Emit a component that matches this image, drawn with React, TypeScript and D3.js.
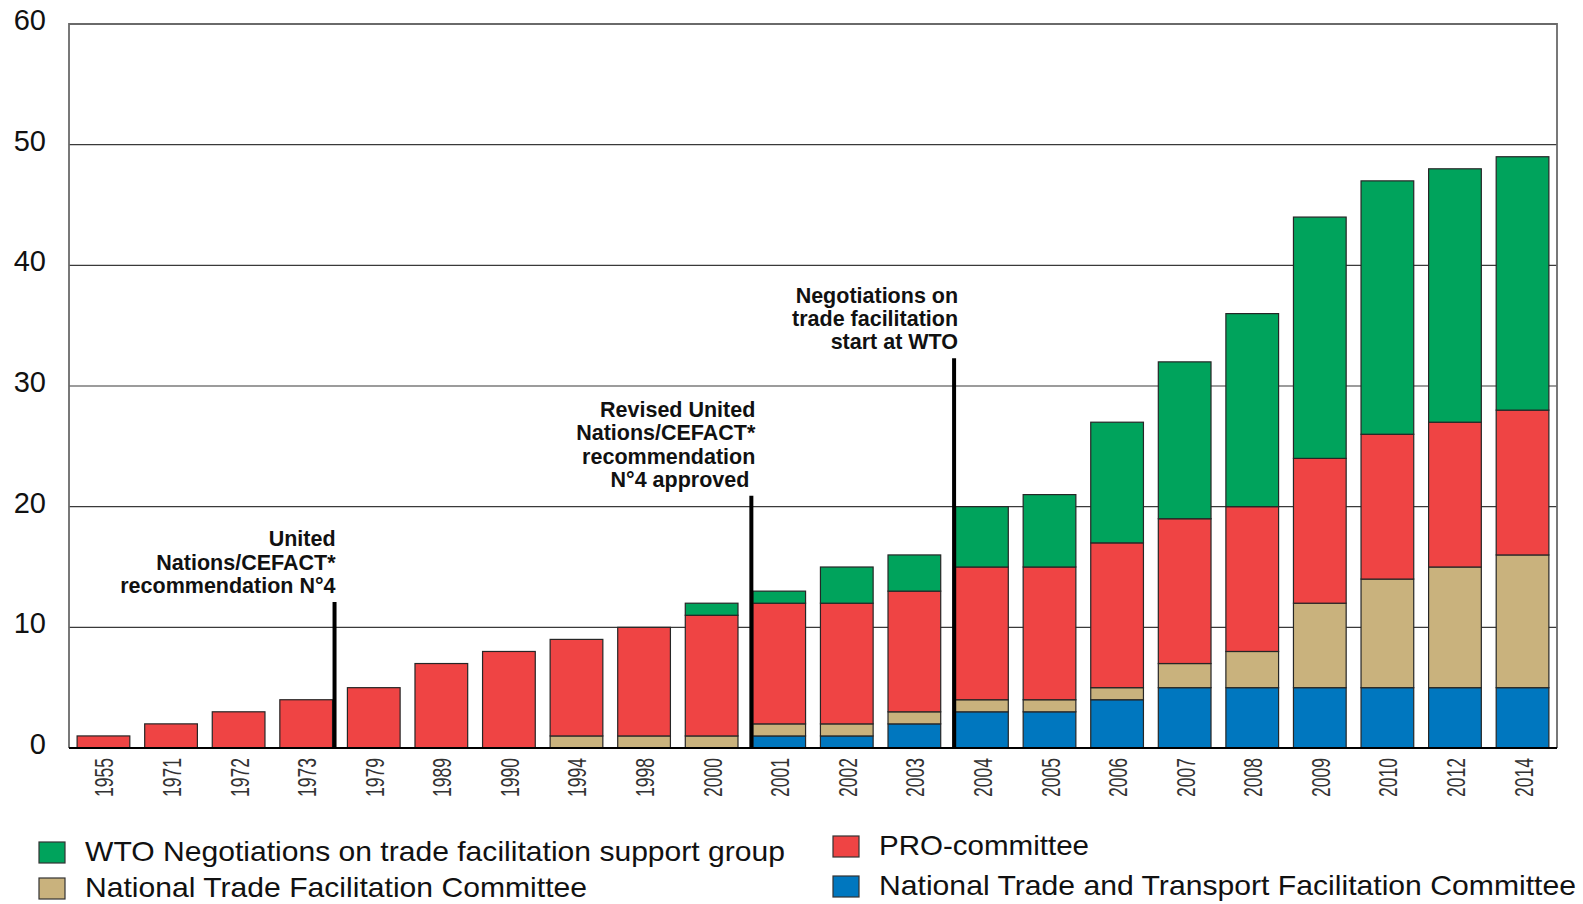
import React from "react";
import * as d3 from "d3";

// chart data
const years = ["1955", "1971", "1972", "1973", "1979", "1989", "1990", "1994", "1998", "2000", "2001",
    "2002", "2003", "2004", "2005", "2006", "2007", "2008", "2009", "2010", "2012", "2014"];
const transportCommittee = [0, 0, 0, 0, 0, 0, 0, 0, 0, 0, 1, 1, 2, 3, 3, 4, 5, 5, 5, 5, 5, 5];
const tradeCommittee = [0, 0, 0, 0, 0, 0, 0, 1, 1, 1, 1, 1, 1, 1, 1, 1, 2, 3, 7, 9, 10, 11];
const proCommittee = [1, 2, 3, 4, 5, 7, 8, 8, 9, 10, 10, 10, 10, 11, 11, 12, 12, 12, 12, 12, 12, 12];
const wtoGroup = [0, 0, 0, 0, 0, 0, 0, 0, 0, 1, 1, 3, 3, 5, 6, 10, 13, 16, 20, 21, 21, 21];
const yTicks = [0, 10, 20, 30, 40, 50, 60];

const seriesKeys = ["transport", "trade", "pro", "wto"];
const seriesColors: Record<string, string> = {
    transport: "#0077bf",
    trade: "#c9b27d",
    pro: "#ef4444",
    wto: "#00a35c",
};

const legendItems = [
    { key: "wto", label: "WTO Negotiations on trade facilitation support group", len: 700 },
    { key: "trade", label: "National Trade Facilitation Committee", len: 502 },
    { key: "pro", label: "PRO-committee", len: 210 },
    { key: "transport", label: "National Trade and Transport Facilitation Committee", len: 697 },
];

// annotation markers: year next to the line, side of that bar, top of the line (in y units)
const annotations = [
    { year: "1973", side: "right", top: 12.1, lines: ["United", "Nations/CEFACT*", "recommendation N°4"] },
    { year: "2001", side: "left", top: 20.9, lines: ["Revised United", "Nations/CEFACT*", "recommendation", "N°4 approved"] },
    { year: "2004", side: "left", top: 32.3, lines: ["Negotiations on", "trade facilitation", "start at WTO"] },
];

const width = 1583, height = 904;
const left = 69, right = 1557, top = 24, bottom = 748;

const App = () => {
    const table = years.map((y, i) => ({
        year: y,
        transport: transportCommittee[i],
        trade: tradeCommittee[i],
        pro: proCommittee[i],
        wto: wtoGroup[i],
    }));
    const stacked = d3.stack<any>().keys(seriesKeys)(table);

    const x = d3.scaleBand().domain(years).range([left, right]).paddingInner(0.22).paddingOuter(0.12);
    const y = d3.scaleLinear().domain([0, 60]).range([bottom, top]);
    const bw = x.bandwidth();

    return (
        <svg width={width} height={height} style={{ position: "absolute", left: 0, top: 0, background: "#fff" }}
             fontFamily="'Liberation Sans', Arial, sans-serif">
            {/* gridlines */}
            {yTicks.filter(t => t > 0 && t < 60).map(t => (
                <line key={t} x1={left} x2={right} y1={y(t)} y2={y(t)} stroke="#3a3a3a" strokeWidth={1.2} />
            ))}
            {/* plot frame */}
            <path d={`M${left},${bottom}V${top}H${right}V${bottom}`} fill="none" stroke="#6a6a6a" strokeWidth={1.8} />

            {/* bars */}
            {stacked.map(s => (
                <g key={s.key} fill={seriesColors[s.key]}>
                    {s.map((d, i) => d[1] - d[0] > 0 ? (
                        <rect key={i} x={x(years[i])} y={y(d[1])} width={bw} height={y(d[0]) - y(d[1])}
                              stroke="#262626" strokeWidth={1.2} />
                    ) : null)}
                </g>
            ))}

            {/* baseline */}
            <line x1={left} x2={right} y1={bottom} y2={bottom} stroke="#000" strokeWidth={2} />

            {/* y labels */}
            {yTicks.map(t => (
                <text key={t} x={46} y={y(t) + 6} textAnchor="end" fontSize={29} fill="#111">{t}</text>
            ))}

            {/* x labels */}
            {years.map(yr => (
                <text key={yr} transform={`translate(${(x(yr) as number) + bw / 2 + 10},758) rotate(-90)`}
                      textAnchor="end" fontSize={26} fill="#333" textLength={39} lengthAdjust="spacingAndGlyphs">
                    {yr}
                </text>
            ))}

            {/* annotations */}
            {annotations.map(a => {
                const bx = x(a.year) as number;
                const lx = a.side === "right" ? bx + bw + 2 : bx - 1.5;
                const lineTop = y(a.top);
                const n = a.lines.length;
                const tx = a.side === "right" ? lx + 1 : lx + 4;
                return (
                    <g key={a.year}>
                        <line x1={lx} x2={lx} y1={lineTop} y2={bottom} stroke="#000" strokeWidth={4} />
                        {a.lines.map((l, i) => (
                            <text key={i} x={tx - (a.year === "2001" && i === n - 1 ? 6 : 0)}
                                  y={lineTop - 9 - (n - 1 - i) * 23.3}
                                  textAnchor="end" fontSize={21.5} fontWeight="bold" fill="#111">{l}</text>
                        ))}
                    </g>
                );
            })}

            {/* legend */}
            {legendItems.map((item, i) => {
                const col = i < 2 ? 0 : 1;
                const row = i % 2;
                const sx = col === 0 ? 39 : 833;
                const sy = col === 0 ? 842 + row * 36 : 836 + row * 40;
                return (
                    <g key={item.key}>
                        <rect x={sx} y={sy} width={26} height={21} fill={seriesColors[item.key]} stroke="#333" strokeWidth={1.2} />
                        <text x={sx + 46} y={sy + 19} fontSize={28} fill="#111" textLength={item.len}
                              lengthAdjust="spacingAndGlyphs">{item.label}</text>
                    </g>
                );
            })}
        </svg>
    );
};

export default App;
